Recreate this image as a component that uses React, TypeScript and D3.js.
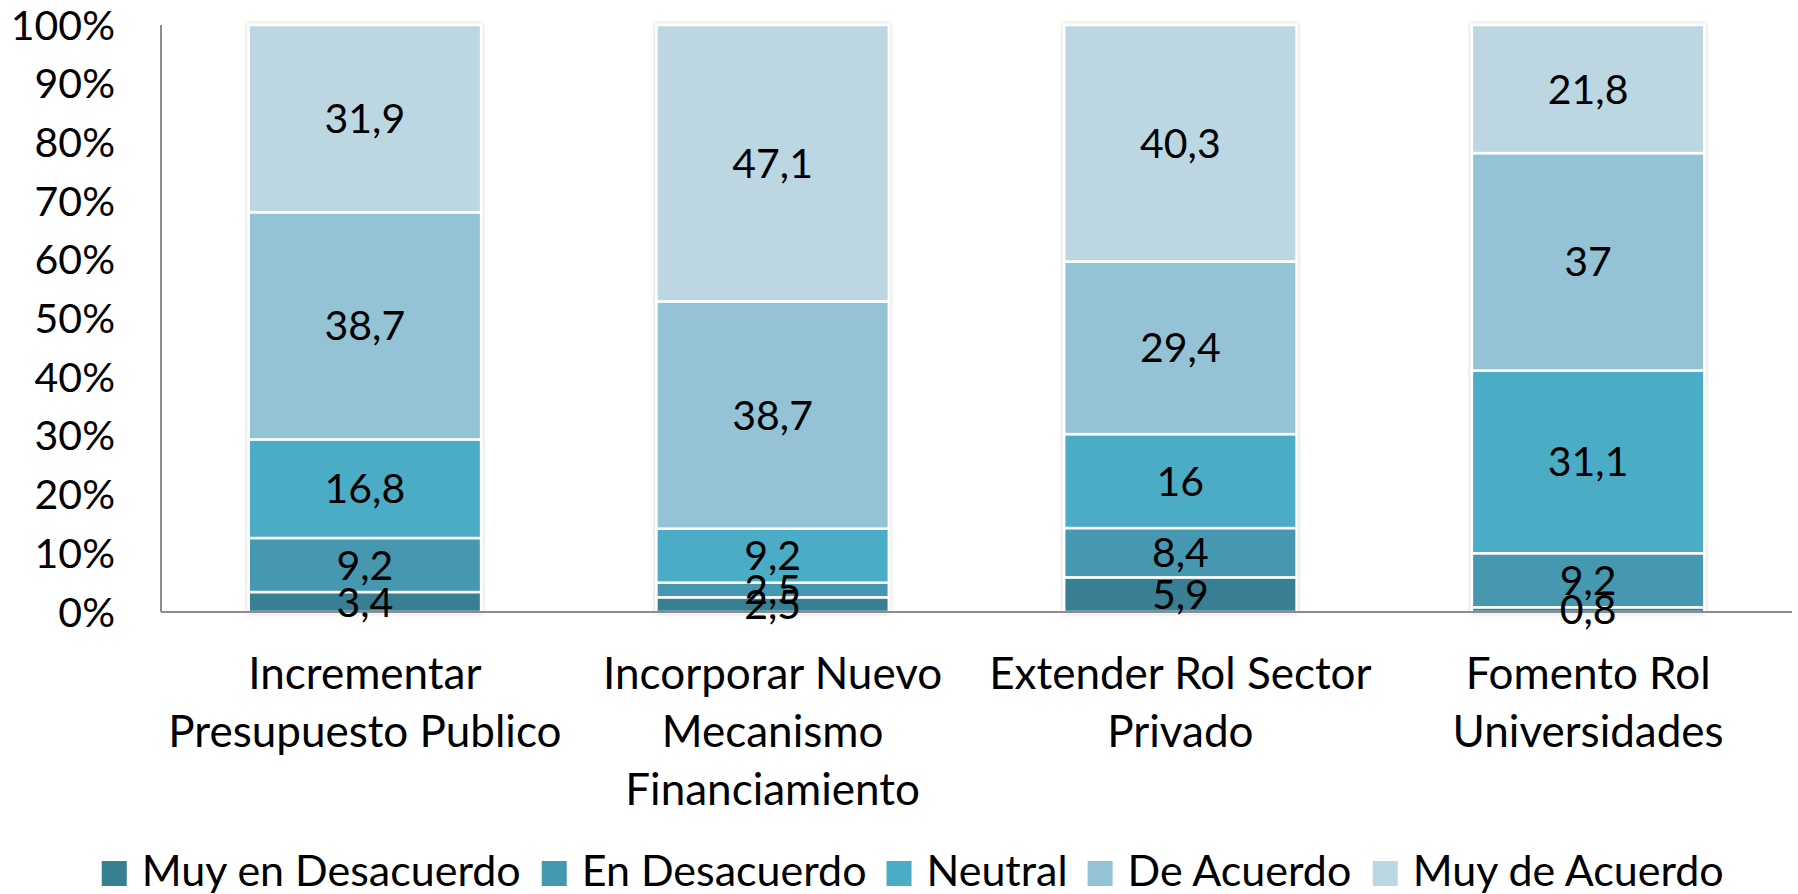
import * as d3 from "d3";

const categories = [
  "Incrementar Presupuesto Publico",
  "Incorporar Nuevo Mecanismo Financiamiento",
  "Extender Rol Sector Privado",
  "Fomento Rol Universidades",
];
const categoryLines = [
  ["Incrementar", "Presupuesto Publico"],
  ["Incorporar Nuevo", "Mecanismo", "Financiamiento"],
  ["Extender Rol Sector", "Privado"],
  ["Fomento Rol", "Universidades"],
];
const seriesNames = ["Muy en Desacuerdo", "En Desacuerdo", "Neutral", "De Acuerdo", "Muy de Acuerdo"];
const muyEnDesacuerdo = [3.4, 2.5, 5.9, 0.8];
const enDesacuerdo = [9.2, 2.5, 8.4, 9.2];
const neutral = [16.8, 9.2, 16, 31.1];
const deAcuerdo = [38.7, 38.7, 29.4, 37];
const muyDeAcuerdo = [31.9, 47.1, 40.3, 21.8];
const yTicks = [0, 10, 20, 30, 40, 50, 60, 70, 80, 90, 100];
const colors = ["#377f93", "#4498af", "#4bacc6", "#93c3d5", "#bcd7e2"];

const W = 1798;
const H = 894;
const FONT = "Lato, 'DejaVu Sans', sans-serif";
const FS = 41; // numbers
const FS_TXT = 44; // category words
const FS_LEG = 43; // legend

const measure = (txt: string, size: number) => {
  const ctx = document.createElement("canvas").getContext("2d");
  if (!ctx) return txt.length * size * 0.5;
  ctx.font = `${size}px Lato`;
  return ctx.measureText(txt).width;
};

export default function App() {
  const margin = { left: 161, right: 6, top: 25, bottom: 282 };
  const seriesValues = [muyEnDesacuerdo, enDesacuerdo, neutral, deAcuerdo, muyDeAcuerdo];
  const rows = categories.map((c, i) => {
    const r: any = { category: c };
    seriesNames.forEach((s, j) => (r[s] = seriesValues[j][i]));
    return r;
  });
  const stacked = d3.stack<any>().keys(seriesNames).offset(d3.stackOffsetExpand)(rows);

  const x = d3.scaleBand<string>()
    .domain(categories)
    .range([margin.left, W - margin.right])
    .paddingInner(0.43)
    .paddingOuter(0.215);
  const y = d3.scaleLinear().domain([0, 1]).range([H - margin.bottom, margin.top]);
  const y0 = y(0);

  // legend layout
  const sq = 25, gapSqText = 15, gapItem = 20;
  const widths = seriesNames.map((s) => measure(s, FS_LEG));
  const total = widths.reduce((a, w) => a + sq + gapSqText + w, 0) + gapItem * (seriesNames.length - 1);
  let lx = 914 - total / 2;
  const legendItems = seriesNames.map((s, i) => {
    const item = { name: s, x: lx, color: colors[i] };
    lx += sq + gapSqText + widths[i] + gapItem;
    return item;
  });

  return (
    <div style={{ position: "absolute", left: 0, top: 0 }}>
      <svg width={W} height={H} style={{ display: "block", background: "#fff" }} fontFamily={FONT}>
        <defs>
          <filter id="barShadow" x="-5%" y="-5%" width="110%" height="110%">
            <feDropShadow dx="0" dy="0" stdDeviation="2" floodColor="#000" floodOpacity="0.22" />
          </filter>
        </defs>

        {/* bars */}
        {categories.map((c, ci) => (
          <g key={c} filter="url(#barShadow)">
            {stacked.map((layer, si) => {
              const d = layer[ci];
              return (
                <rect
                  key={layer.key}
                  x={x(c)}
                  y={y(d[1])}
                  width={x.bandwidth()}
                  height={y(d[0]) - y(d[1])}
                  fill={colors[si]}
                  stroke="#fff"
                  strokeWidth={2.5}
                />
              );
            })}
          </g>
        ))}

        {/* axes */}
        <line x1={margin.left} x2={margin.left} y1={margin.top} y2={y0} stroke="#8c8c8c" strokeWidth={2} />
        <line x1={margin.left} x2={W - margin.right} y1={y0} y2={y0} stroke="#8c8c8c" strokeWidth={2} />

        {yTicks.map((t) => (
          <text key={t} x={115} y={y(t / 100) + 14.5} textAnchor="end" fontSize={FS} fill="#000">
            {t}%
          </text>
        ))}

        {/* value labels */}
        {categories.map((c, ci) =>
          stacked.map((layer, si) => {
            const d = layer[ci];
            const v = seriesValues[si][ci];
            return (
              <text
                key={c + layer.key}
                x={(x(c) ?? 0) + x.bandwidth() / 2}
                y={(y(d[0]) + y(d[1])) / 2 + 14.5}
                textAnchor="middle"
                fontSize={FS}
                fill="#000"
              >
                {String(v).replace(".", ",")}
              </text>
            );
          })
        )}

        {/* category labels */}
        {categories.map((c, ci) => (
          <text key={c} textAnchor="middle" fontSize={FS_TXT} fill="#000">
            {categoryLines[ci].map((ln, li) => (
              <tspan key={li} x={(x(c) ?? 0) + x.bandwidth() / 2} y={689 + li * 58}>
                {ln}
              </tspan>
            ))}
          </text>
        ))}

        {/* legend */}
        {legendItems.map((it) => (
          <g key={it.name}>
            <rect x={it.x} y={861} width={sq} height={sq} fill={it.color} />
            <text x={it.x + sq + gapSqText} y={886} fontSize={FS_LEG} fill="#000">
              {it.name}
            </text>
          </g>
        ))}
      </svg>
    </div>
  );
}
